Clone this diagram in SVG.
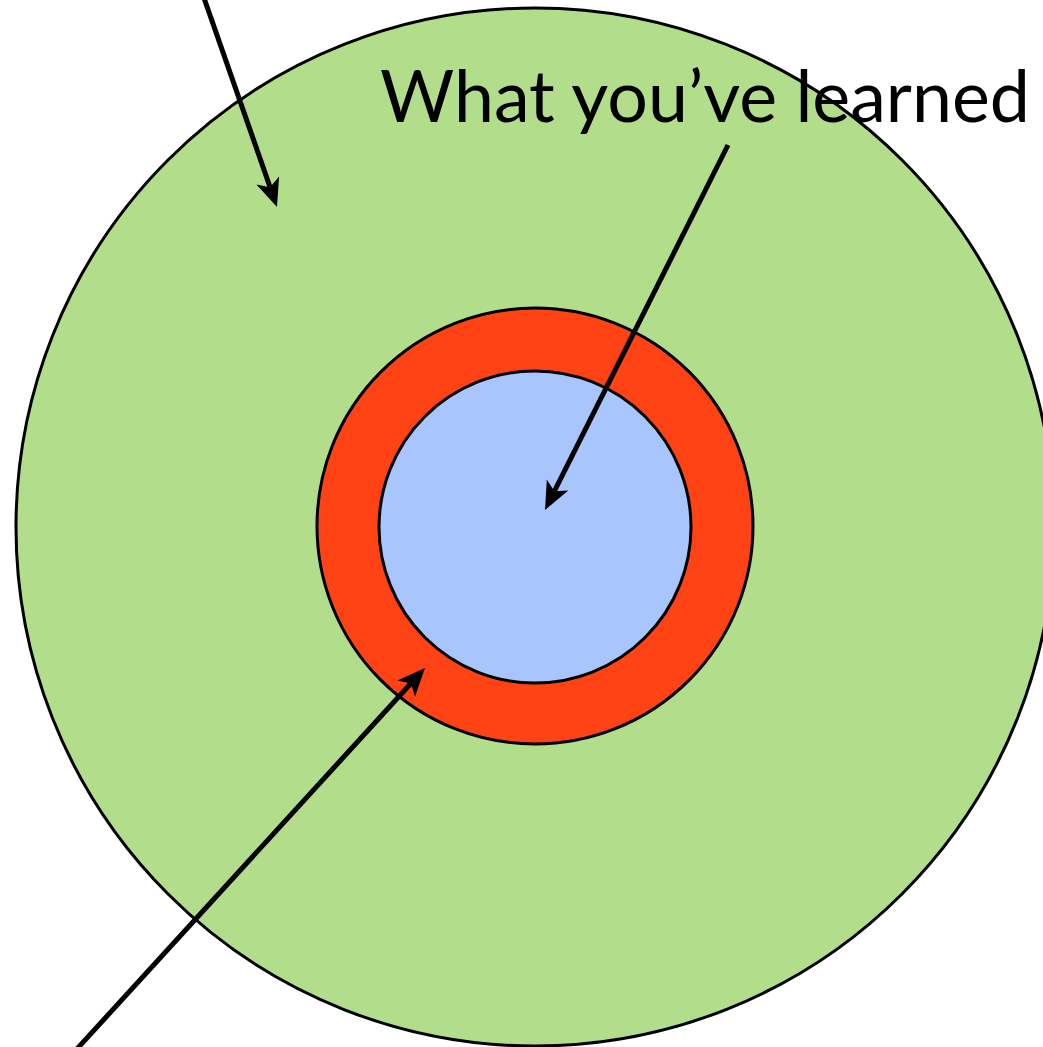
<svg xmlns="http://www.w3.org/2000/svg" width="1043" height="1047" viewBox="0 0 1043 1047">
<style>
.ring{stroke:#000;stroke-width:3}
.arr{stroke:#000;stroke-width:5;fill:none}
.head{fill:#000;stroke:none}
.lbl{font-family:"Gill Sans","Lato","Liberation Sans",sans-serif;font-size:72px;fill:#000}
</style>
<rect width="1043" height="1047" fill="#fff"/>
<g id="outer"><circle class="ring" cx="535" cy="527" r="519" fill="#b2de8c"/></g>
<g id="middle"><circle class="ring" cx="535" cy="526" r="218" fill="#ff4314"/></g>
<g id="inner"><circle class="ring" cx="535" cy="527" r="156" fill="#a8c5fd"/></g>
<g id="label"><text class="lbl" x="380" y="122" textLength="650" lengthAdjust="spacingAndGlyphs">What you’ve learned</text></g>
<g id="connectors">
<line class="arr" x1="204" y1="-2" x2="270" y2="187"/>
<path class="head" d="M277,207 L256.4,184.5 L270.1,187.2 L279.1,176.6 Z"/>
<line class="arr" x1="728" y1="145" x2="554.4" y2="491.2"/>
<path class="head" d="M545,510 L546.8,479.6 L554.4,491.2 L568.3,490.4 Z"/>
<line class="arr" x1="76" y1="1050" x2="410.8" y2="683.5"/>
<path class="head" d="M425,668 L415,696.8 L410.8,683.5 L397.3,680.6 Z"/>
</g>
</svg>
